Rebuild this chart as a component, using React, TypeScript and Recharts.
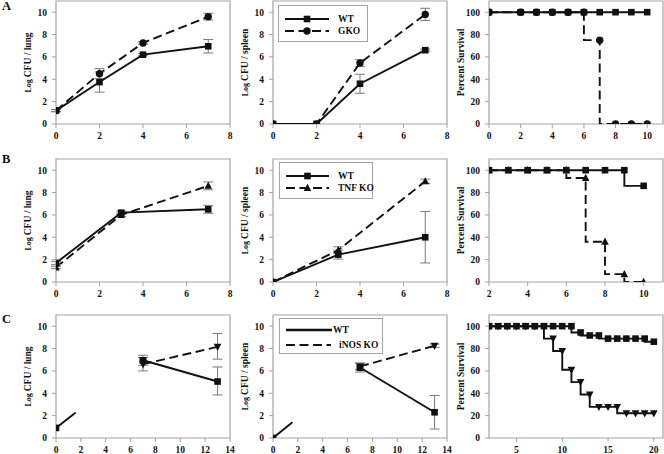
import React from 'react'
import { LineChart, Line, XAxis, YAxis, ErrorBar, ReferenceArea, Legend } from 'recharts'

const INK = '#111'
const FRAME = '#a3a3a3'
const WHISKER = '#7a7a7a'
const SERIF = '"Liberation Serif", "Times New Roman", serif'
const DASH = '9 4.5'
// the day-0 to day-7 segment in row C is only drawn for its first ~25px
const BROKEN = '25 4000'

// ---- row A: WT vs GKO
const A_CFU_DAYS = [0, 2, 4, 7]
const A_LUNG_WT = [1.2, 3.75, 6.2, 6.95]
const A_LUNG_WT_ERR = [0.1, 0.9, 0.1, 0.6]
const A_LUNG_GKO = [1.2, 4.5, 7.25, 9.6]
const A_LUNG_GKO_ERR = [0.1, 0.45, 0.1, 0.3]
const A_SPLEEN_WT = [0, 0, 3.6, 6.6]
const A_SPLEEN_WT_ERR = [0, 0, 0.85, 0.1]
const A_SPLEEN_GKO = [0, 0, 5.45, 9.8]
const A_SPLEEN_GKO_ERR = [0, 0, 0.3, 0.55]
const A_SURV_DAYS = [0, 2, 3, 4, 5, 6, 7, 8, 9, 10]
const A_SURV_WT = [100, 100, 100, 100, 100, 100, 100, 100, 100, 100]
const A_SURV_GKO = [100, 100, 100, 100, 100, 100, 75, 0, 0, 0]

// ---- row B: WT vs TNF KO
const B_CFU_DAYS = [0, 3, 7]
const B_LUNG_WT = [1.7, 6.2, 6.5]
const B_LUNG_WT_ERR = [0.15, 0.15, 0.35]
const B_LUNG_TNF = [1.3, 6.0, 8.6]
const B_LUNG_TNF_ERR = [0.1, 0.15, 0.35]
const B_SPLEEN_WT = [0, 2.45, 4.0]
const B_SPLEEN_WT_ERR = [0, 0.4, 2.3]
const B_SPLEEN_TNF = [0, 2.85, 9.0]
const B_SPLEEN_TNF_ERR = [0, 0.3, 0.2]
const B_SURV_DAYS = [2, 3, 4, 5, 6, 7, 8, 9, 10]
const B_SURV_WT = [100, 100, 100, 100, 100, 100, 100, 100, 86]
const B_SURV_TNF = [100, 100, 100, 100, 100, 93, 36, 7, 0]

// ---- row C: WT vs iNOS KO
const C_CFU_DAYS = [0, 7, 13]
const C_LUNG_WT = [0.9, 6.95, 5.05]
const C_LUNG_WT_ERR: (number | [number, number])[] = [0.1, 0.45, [1.2, 1.3]]
const C_LUNG_INOS = [null, 6.6, 8.15]
const C_LUNG_INOS_ERR: (number | [number, number])[] = [0, 0.6, [1.1, 1.2]]
const C_SPLEEN_WT = [0, 6.3, 2.3]
const C_SPLEEN_WT_ERR = [0, 0.4, 1.5]
const C_SPLEEN_INOS = [null, 6.4, 8.25]
const C_SPLEEN_INOS_ERR = [0, 0.3, 0.15]
const C_SURV_DAYS = [2, 3, 4, 5, 6, 7, 8, 9, 10, 11, 12, 13, 14, 15, 16, 17, 18, 19, 20]
const C_SURV_WT = [100, 100, 100, 100, 100, 100, 100, 100, 100, 100, 94.4, 91.7, 91.7, 88.9, 88.9, 88.9, 88.9, 88.9, 86.1]
const C_SURV_INOS = [100, 100, 100, 100, 100, 100, 100, 88.9, 77.8, 61.1, 50, 38.9, 27.8, 27.8, 27.8, 22.2, 22.2, 22.2, 22.2]

const CFU_TICKS = [0, 2, 4, 6, 8, 10]
const SURV_TICKS = [0, 20, 40, 60, 80, 100]
const DAY_TICKS_8 = [0, 2, 4, 6, 8]
const DAY_TICKS_14 = [0, 2, 4, 6, 8, 10, 12, 14]

const late = (days: number[], vals: (number | null)[]) => vals.map((v, i) => (days[i] >= 7 ? v : null))
const early = (days: number[], vals: (number | null)[]) => vals.map((v, i) => (days[i] <= 7 ? v : null))

function rows(days: number[], cols: Record<string, unknown[]>) {
  return days.map((d, i) => {
    const r: Record<string, unknown> = { day: d }
    Object.keys(cols).forEach(k => { r[k] = cols[k][i] })
    return r
  })
}

type Marker = 'square' | 'circle' | 'triangle' | 'triangleDown' | 'none'
interface Series { key: string; marker: Marker; dashed?: boolean; err?: string; step?: boolean; clip?: string }

function dotFor(kind: Marker) {
  // eslint-disable-next-line @typescript-eslint/no-explicit-any
  return (p: any) => {
    const { cx, cy, index, value } = p
    const k = `m${index}`
    if (kind === 'none' || cx == null || cy == null || value == null || Number.isNaN(cy)) return <g key={k} />
    if (kind === 'square') return <rect key={k} x={cx - 3.3} y={cy - 3.3} width={6.6} height={6.6} fill={INK} />
    if (kind === 'circle') return <circle key={k} cx={cx} cy={cy} r={3.7} fill={INK} />
    if (kind === 'triangle') return <polygon key={k} points={`${cx},${cy - 4.2} ${cx - 3.8},${cy + 3} ${cx + 3.8},${cy + 3}`} fill={INK} />
    return <polygon key={k} points={`${cx},${cy + 4.2} ${cx - 3.8},${cy - 3} ${cx + 3.8},${cy - 3}`} fill={INK} />
  }
}

const TICK = { fill: INK, fontSize: 9.5, fontWeight: 700, fontFamily: SERIF }

// eslint-disable-next-line @typescript-eslint/no-explicit-any
function YTitle({ viewBox, text, log }: any) {
  if (!viewBox) return null
  const x = viewBox.x + viewBox.width - 28.5
  const y = viewBox.y + viewBox.height / 2
  return (
    <text x={x} y={y} transform={`rotate(-90 ${x} ${y})`} textAnchor="middle" dominantBaseline="central"
      fill={INK} fontFamily={SERIF} fontWeight={700} fontSize={9.5}>
      {log && <tspan fontSize={8}>Log </tspan>}
      <tspan>{text}</tspan>
    </text>
  )
}

interface LegendItem { label: string; marker: Marker; dashed?: boolean; thick?: number; y: number; x2: number; tx: number }

function LegendBox({ w, h, items }: { w: number; h: number; items: LegendItem[] }) {
  return (
    <div style={{ position: 'relative', width: w, height: h, border: `1px solid ${FRAME}`, boxSizing: 'border-box', background: '#fff' }}>
      {items.map(it => {
        const lw = it.x2 - 6
        const mk = dotFor(it.marker)({ cx: lw / 2, cy: 5, index: 0, value: 1 })
        return (
          <div key={it.label} style={{ position: 'absolute', left: 6, top: it.y - 5, height: 10, display: 'flex', alignItems: 'center' }}>
            <svg width={lw} height={10} style={{ display: 'block' }}>
              <line x1={0} x2={lw} y1={5} y2={5} stroke={INK} strokeWidth={it.thick ?? 1.9} strokeDasharray={it.dashed ? DASH : undefined} />
              {mk}
            </svg>
            <span style={{ marginLeft: it.tx - it.x2, fontFamily: SERIF, fontWeight: 700, fontSize: 9.5, color: INK, whiteSpace: 'nowrap', lineHeight: '10px' }}>
              {it.label}
            </span>
          </div>
        )
      })}
    </div>
  )
}

interface PanelProps {
  left: number; top: number; w?: number; h?: number
  data: Record<string, unknown>[]
  xDomain: [number, number]; xTicks: number[]
  yDomain: [number, number]; yTicks: number[]
  yLabel: string; log?: boolean
  series: Series[]
  legend?: { x: number; y: number; w: number; h: number; items: LegendItem[] }
}

function Panel({ left, top, w = 174, h = 123, data, xDomain, xTicks, yDomain, yTicks, yLabel, log, series, legend }: PanelProps) {
  const ML = 55, MT = 6, MR = 6, MB = 25
  const cl = left - ML, ct = top - MT
  return (
    <div style={{ position: 'absolute', left: cl, top: ct }}>
      <LineChart width={w + ML + MR} height={h + MT + MB} data={data} margin={{ top: MT, right: MR, left: 5, bottom: 5 }}>
        <ReferenceArea x1={xDomain[0]} x2={xDomain[1]} y1={yDomain[0]} y2={yDomain[1]} fill="none" fillOpacity={0} stroke={FRAME} strokeWidth={1.2} />
        <XAxis dataKey="day" type="number" domain={xDomain} ticks={xTicks} interval={0} height={20} allowDataOverflow
          axisLine={false} tickLine={{ stroke: FRAME }} tickSize={4} tickMargin={4} tick={TICK} />
        <YAxis type="number" domain={yDomain} ticks={yTicks} interval={0} width={50} allowDataOverflow
          axisLine={false} tickLine={{ stroke: FRAME }} tickSize={4} tickMargin={5} tick={TICK}
          label={<YTitle text={yLabel} log={log} />} />
        {series.map(s => (
          <Line key={s.key} dataKey={s.key} type={s.step ? 'stepBefore' : 'linear'} stroke={INK} strokeWidth={1.9}
            strokeDasharray={s.clip ?? (s.dashed ? DASH : undefined)} dot={dotFor(s.marker)} activeDot={false}
            isAnimationActive={false} connectNulls={false}>
            {s.err && <ErrorBar dataKey={s.err} width={5} stroke={WHISKER} strokeWidth={1} direction="y" />}
          </Line>
        ))}
        {legend && (
          <Legend layout="horizontal" verticalAlign="middle" align="center"
            wrapperStyle={{ left: legend.x - cl, top: legend.y - ct, width: legend.w, height: legend.h }}
            content={() => <LegendBox w={legend.w} h={legend.h} items={legend.items} />} />
        )}
      </LineChart>
    </div>
  )
}

const COL = [55.5, 272.5, 488.5]
const ROW = [1, 158.7, 315.3]

const letter = (t: string, top: number) => (
  <div style={{ position: 'absolute', left: 2, top, fontFamily: SERIF, fontWeight: 700, fontSize: 12.5, lineHeight: 1, color: INK }}>{t}</div>
)

export default function App() {
  return (
    <div style={{ position: 'absolute', left: 0, top: 0, width: 664, height: 454, background: '#fff', overflow: 'hidden' }}>
      {letter('A', 0)}
      {letter('B', 153)}
      {letter('C', 313)}

      <Panel left={COL[0]} top={ROW[0]} xDomain={[0, 8]} xTicks={DAY_TICKS_8} yDomain={[0, 11]} yTicks={CFU_TICKS}
        yLabel="CFU / lung" log
        data={rows(A_CFU_DAYS, { wt: A_LUNG_WT, wtErr: A_LUNG_WT_ERR, ko: A_LUNG_GKO, koErr: A_LUNG_GKO_ERR })}
        series={[{ key: 'ko', marker: 'circle', dashed: true, err: 'koErr' }, { key: 'wt', marker: 'square', err: 'wtErr' }]} />
      <Panel left={COL[1]} top={ROW[0]} xDomain={[0, 8]} xTicks={DAY_TICKS_8} yDomain={[0, 11]} yTicks={CFU_TICKS}
        yLabel="CFU / spleen" log
        data={rows(A_CFU_DAYS, { wt: A_SPLEEN_WT, wtErr: A_SPLEEN_WT_ERR, ko: A_SPLEEN_GKO, koErr: A_SPLEEN_GKO_ERR })}
        series={[{ key: 'ko', marker: 'circle', dashed: true, err: 'koErr' }, { key: 'wt', marker: 'square', err: 'wtErr' }]}
        legend={{ x: 278, y: 5, w: 90, h: 37, items: [
          { label: 'WT', marker: 'square', y: 13, x2: 50, tx: 59 },
          { label: 'GKO', marker: 'circle', dashed: true, y: 25, x2: 50, tx: 59 },
        ] }} />
      <Panel left={COL[2]} top={ROW[0]} xDomain={[0, 11]} xTicks={[0, 2, 4, 6, 8, 10]} yDomain={[0, 110]} yTicks={SURV_TICKS}
        yLabel="Percent Survival"
        data={rows(A_SURV_DAYS, { wt: A_SURV_WT, ko: A_SURV_GKO })}
        series={[{ key: 'ko', marker: 'circle', dashed: true, step: true }, { key: 'wt', marker: 'square', step: true }]} />

      <Panel left={COL[0]} top={ROW[1]} xDomain={[0, 8]} xTicks={DAY_TICKS_8} yDomain={[0, 11]} yTicks={CFU_TICKS}
        yLabel="CFU / lung" log
        data={rows(B_CFU_DAYS, { wt: B_LUNG_WT, wtErr: B_LUNG_WT_ERR, ko: B_LUNG_TNF, koErr: B_LUNG_TNF_ERR })}
        series={[{ key: 'ko', marker: 'triangle', dashed: true, err: 'koErr' }, { key: 'wt', marker: 'square', err: 'wtErr' }]} />
      <Panel left={COL[1]} top={ROW[1]} xDomain={[0, 8]} xTicks={DAY_TICKS_8} yDomain={[0, 11]} yTicks={CFU_TICKS}
        yLabel="CFU / spleen" log
        data={rows(B_CFU_DAYS, { wt: B_SPLEEN_WT, wtErr: B_SPLEEN_WT_ERR, ko: B_SPLEEN_TNF, koErr: B_SPLEEN_TNF_ERR })}
        series={[{ key: 'ko', marker: 'triangle', dashed: true, err: 'koErr' }, { key: 'wt', marker: 'square', err: 'wtErr' }]}
        legend={{ x: 279, y: 162, w: 94, h: 37, items: [
          { label: 'WT', marker: 'square', y: 13, x2: 49, tx: 58 },
          { label: 'TNF KO', marker: 'triangle', dashed: true, y: 25, x2: 49, tx: 58 },
        ] }} />
      <Panel left={COL[2]} top={ROW[1]} xDomain={[2, 11]} xTicks={[2, 4, 6, 8, 10]} yDomain={[0, 110]} yTicks={SURV_TICKS}
        yLabel="Percent Survival"
        data={rows(B_SURV_DAYS, { wt: B_SURV_WT, ko: B_SURV_TNF })}
        series={[{ key: 'ko', marker: 'triangle', dashed: true, step: true }, { key: 'wt', marker: 'square', step: true }]} />

      <Panel left={COL[0]} top={ROW[2]} xDomain={[0, 14]} xTicks={DAY_TICKS_14} yDomain={[0, 11]} yTicks={CFU_TICKS}
        yLabel="CFU / lung" log
        data={rows(C_CFU_DAYS, {
          early: early(C_CFU_DAYS, C_LUNG_WT), wt: late(C_CFU_DAYS, C_LUNG_WT), wtErr: C_LUNG_WT_ERR,
          ko: C_LUNG_INOS, koErr: C_LUNG_INOS_ERR,
        })}
        series={[
          { key: 'early', marker: 'square', clip: BROKEN },
          { key: 'ko', marker: 'triangleDown', dashed: true, err: 'koErr' },
          { key: 'wt', marker: 'square', err: 'wtErr' },
        ]} />
      <Panel left={COL[1]} top={ROW[2]} xDomain={[0, 14]} xTicks={DAY_TICKS_14} yDomain={[0, 11]} yTicks={CFU_TICKS}
        yLabel="CFU / spleen" log
        data={rows(C_CFU_DAYS, {
          early: early(C_CFU_DAYS, C_SPLEEN_WT), wt: late(C_CFU_DAYS, C_SPLEEN_WT), wtErr: C_SPLEEN_WT_ERR,
          ko: C_SPLEEN_INOS, koErr: C_SPLEEN_INOS_ERR,
        })}
        series={[
          { key: 'early', marker: 'square', clip: BROKEN },
          { key: 'ko', marker: 'triangleDown', dashed: true, err: 'koErr' },
          { key: 'wt', marker: 'square', err: 'wtErr' },
        ]}
        legend={{ x: 279, y: 318, w: 104, h: 36, items: [
          { label: 'WT', marker: 'none', thick: 2.6, y: 11, x2: 52, tx: 53 },
          { label: 'iNOS KO', marker: 'none', dashed: true, y: 26, x2: 51, tx: 59 },
        ] }} />
      <Panel left={COL[2]} top={ROW[2]} xDomain={[2, 21]} xTicks={[5, 10, 15, 20]} yDomain={[0, 110]} yTicks={SURV_TICKS}
        yLabel="Percent Survival"
        data={rows(C_SURV_DAYS, { wt: C_SURV_WT, ko: C_SURV_INOS })}
        series={[{ key: 'ko', marker: 'triangleDown', step: true }, { key: 'wt', marker: 'square', step: true }]} />
    </div>
  )
}
